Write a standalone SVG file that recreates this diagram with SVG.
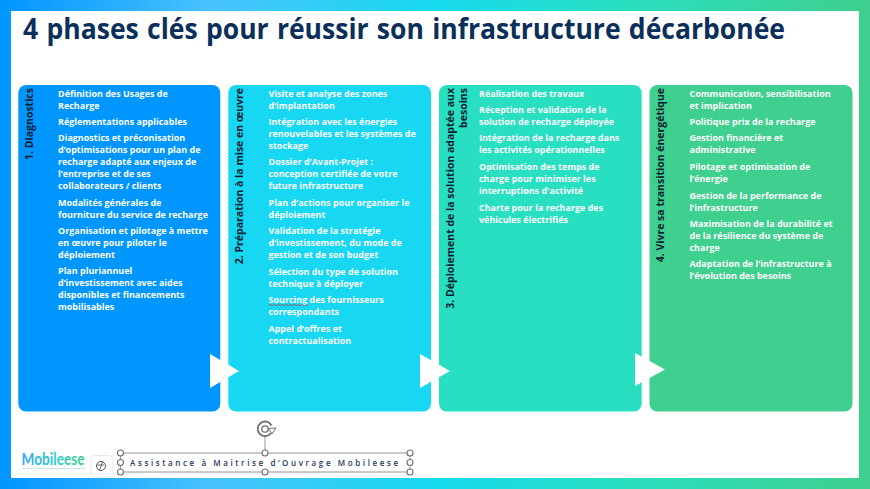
<svg xmlns="http://www.w3.org/2000/svg" width="870" height="489" viewBox="0 0 870 489">
<defs>
<linearGradient id="bg" x1="0" y1="0" x2="1" y2="0">
<stop offset="0" stop-color="#0096ff"/><stop offset="0.03" stop-color="#0a9aff"/><stop offset="0.24" stop-color="#48c3fd"/><stop offset="0.5" stop-color="#16d9ee"/><stop offset="0.72" stop-color="#29dfc0"/><stop offset="1" stop-color="#3fcf8e"/>
</linearGradient>
<linearGradient id="logo" x1="0" y1="0" x2="1" y2="0">
<stop offset="0" stop-color="#35a9f0"/><stop offset="0.6" stop-color="#2bd3c8"/><stop offset="1" stop-color="#3fcf8e"/>
</linearGradient>
<style>
.card{stroke:none}
.b{font:700 8.98px "Open Sans",sans-serif;fill:#fff}
.v{font:700 10.5px "Open Sans",sans-serif;fill:#0a1e33;text-anchor:end}
.h{fill:#fff;stroke:#707070;stroke-width:1.1}
.a{fill:#fff}
</style>
</defs>
<rect width="870" height="489" fill="url(#bg)"/>
<rect x="11" y="11" width="848" height="467" fill="#fff"/>
<text x="23" y="39" textLength="762" lengthAdjust="spacingAndGlyphs" font-family="'Open Sans',sans-serif" font-weight="700" font-size="28.4" word-spacing="1.5" fill="#0b2f5b">4 phases clés pour réussir son infrastructure décarbonée</text>

<g id="phase1">
<rect class="card" x="18.3" y="85" width="202" height="326.5" rx="8" fill="#0096ff"/>
<text class="v" transform="translate(33 88) rotate(-90)">1. Diagnostics</text>
<text class="b">
<tspan x="58" y="96.5">Définition des Usages de</tspan><tspan x="58" y="108.5">Recharge</tspan>
<tspan x="58" y="124.7">Réglementations applicables</tspan>
<tspan x="58" y="141">Diagnostics et préconisation</tspan><tspan x="58" y="153">d’optimisations pour un plan de</tspan><tspan x="58" y="165">recharge adapté aux enjeux de</tspan><tspan x="58" y="177">l’entreprise et de ses</tspan><tspan x="58" y="189">collaborateurs / clients</tspan>
<tspan x="58" y="205.5">Modalités générales de</tspan><tspan x="58" y="217.5">fourniture du service de recharge</tspan>
<tspan x="58" y="233.7">Organisation et pilotage à mettre</tspan><tspan x="58" y="245.7">en œuvre pour piloter le</tspan><tspan x="58" y="257.7">déploiement</tspan>
<tspan x="58" y="274">Plan pluriannuel</tspan><tspan x="58" y="286">d’investissement avec aides</tspan><tspan x="58" y="298">disponibles et financements</tspan><tspan x="58" y="310">mobilisables</tspan>
</text>
</g>

<g id="phase2">
<rect class="card" x="228.3" y="85" width="202.7" height="326.5" rx="8" fill="#17d7f2"/>
<text class="v" transform="translate(243 88) rotate(-90)">2. Préparation à la mise en œuvre</text>
<text class="b">
<tspan x="268.5" y="96.5">Visite et analyse des zones</tspan><tspan x="268.5" y="108.5">d’implantation</tspan>
<tspan x="268.5" y="124.7">Intégration avec les énergies</tspan><tspan x="268.5" y="136.7">renouvelables et les systèmes de</tspan><tspan x="268.5" y="148.7">stockage</tspan>
<tspan x="268.5" y="165">Dossier d’Avant-Projet :</tspan><tspan x="268.5" y="177">conception certifiée de votre</tspan><tspan x="268.5" y="189">future infrastructure</tspan>
<tspan x="268.5" y="205.5">Plan d’actions pour organiser le</tspan><tspan x="268.5" y="217.5">déploiement</tspan>
<tspan x="268.5" y="233.7">Validation de la stratégie</tspan><tspan x="268.5" y="245.7">d’investissement, du mode de</tspan><tspan x="268.5" y="257.7">gestion et de son budget</tspan>
<tspan x="268.5" y="274.5">Sélection du type de solution</tspan><tspan x="268.5" y="286.5">technique à déployer</tspan>
<tspan x="268.5" y="303">Sourcing des fournisseurs</tspan><tspan x="268.5" y="315">correspondants</tspan>
<tspan x="268.5" y="331.5">Appel d’offres et</tspan><tspan x="268.5" y="343.5">contractualisation</tspan>
</text>
<polyline points="268.5,305.5 270.5,304.6 272.5,305.5 274.5,304.6 276.5,305.5 278.5,304.6 280.5,305.5 282.5,304.6 284.5,305.5 286.5,304.6 288.5,305.5 290.5,304.6 292.5,305.5 294.5,304.6 296.5,305.5 298.5,304.6 300.5,305.5 302.5,304.6 304.5,305.5 306.5,304.6 308,305.5" fill="none" stroke="#b5403d" stroke-width="0.8"/>
</g>

<g id="phase3">
<rect class="card" x="439" y="85" width="202.7" height="326.5" rx="8" fill="#29dfc1"/>
<text class="v" transform="translate(454 88) rotate(-90)">3. Déploiement de la solution adaptée aux</text>
<text class="v" transform="translate(467 88) rotate(-90)">besoins</text>
<text class="b">
<tspan x="479" y="96.5">Réalisation des travaux</tspan>
<tspan x="479" y="112.8">Réception et validation de la</tspan><tspan x="479" y="124.8">solution de recharge déployée</tspan>
<tspan x="479" y="141">Intégration de la recharge dans</tspan><tspan x="479" y="153">les activités opérationnelles</tspan>
<tspan x="479" y="170">Optimisation des temps de</tspan><tspan x="479" y="182">charge pour minimiser les</tspan><tspan x="479" y="194">interruptions d'activité</tspan>
<tspan x="479" y="210.5">Charte pour la recharge des</tspan><tspan x="479" y="222.5">véhicules électrifiés</tspan>
</text>
</g>

<g id="phase4">
<rect class="card" x="649.5" y="85" width="203" height="326.5" rx="8" fill="#3fcf8e"/>
<text class="v" transform="translate(664 88) rotate(-90)">4. Vivre sa transition énergétique</text>
<text class="b">
<tspan x="689.5" y="96.5">Communication, sensibilisation</tspan><tspan x="689.5" y="108.5">et implication</tspan>
<tspan x="689.5" y="124.7">Politique prix de la recharge</tspan>
<tspan x="689.5" y="141">Gestion financière et</tspan><tspan x="689.5" y="153">administrative</tspan>
<tspan x="689.5" y="170">Pilotage et optimisation de</tspan><tspan x="689.5" y="182">l’énergie</tspan>
<tspan x="689.5" y="198.7">Gestion de la performance de</tspan><tspan x="689.5" y="210.7">l’infrastructure</tspan>
<tspan x="689.5" y="227">Maximisation de la durabilité et</tspan><tspan x="689.5" y="239">de la résilience du système de</tspan><tspan x="689.5" y="251">charge</tspan>
<tspan x="689.5" y="267">Adaptation de l’infrastructure à</tspan><tspan x="689.5" y="279">l’évolution des besoins</tspan>
</text>
</g>

<g id="connectors">
<polygon class="a" points="210,354 239,371 210,388"/>
<polygon class="a" points="420,354 450,371 420,388"/>
<polygon class="a" points="635,353 665,369.5 635,386"/>
</g>

<g id="logo-mobileese">
<text x="21.5" y="465" textLength="63" lengthAdjust="spacingAndGlyphs" font-family="'Lato',sans-serif" font-weight="700" font-size="17" fill="url(#logo)">Mobileese</text>
<line x1="22" y1="468.5" x2="85" y2="468.5" stroke="#bfe6ee" stroke-width="1.2" stroke-dasharray="3 1"/>
</g>

<g id="footer-selection">
<rect x="91" y="455.5" width="22" height="21.5" rx="4" fill="#fff" stroke="#e2e2e2" stroke-width="0.8"/>
<circle cx="101" cy="466" r="4.5" fill="none" stroke="#555" stroke-width="1"/>
<path d="M102.5 461.5L99.5 470.5M97 465h7" fill="none" stroke="#555" stroke-width="0.9"/>
<rect x="120.5" y="453" width="289.5" height="19" fill="none" stroke="#8a8a8a" stroke-width="0.9"/>
<line x1="265" y1="435" x2="265" y2="453" stroke="#8a8a8a" stroke-width="0.9"/>
<path d="M271.5 425.5A7.3 7.3 0 1 0 271 433" fill="none" stroke="#707070" stroke-width="1.8"/>
<circle cx="265" cy="429" r="3.2" fill="none" stroke="#707070" stroke-width="1.3"/>
<path d="M268.5 428.5L276 428L272 434Z" fill="#fff" stroke="#707070" stroke-width="1"/>
<text x="130" y="466" textLength="268" lengthAdjust="spacing" font-family="'Open Sans',sans-serif" font-weight="600" font-size="8" fill="#1f3864">Assistance à Maitrise d’Ouvrage Mobileese</text>
<circle class="h" cx="120.5" cy="453" r="3"/><circle class="h" cx="265" cy="453" r="3"/><circle class="h" cx="410" cy="453" r="3"/>
<circle class="h" cx="120.5" cy="462.5" r="3"/><circle class="h" cx="410" cy="462.5" r="3"/>
<circle class="h" cx="120.5" cy="472" r="3"/><circle class="h" cx="265" cy="472" r="3"/><circle class="h" cx="410" cy="472" r="3"/>
</g>
</svg>
